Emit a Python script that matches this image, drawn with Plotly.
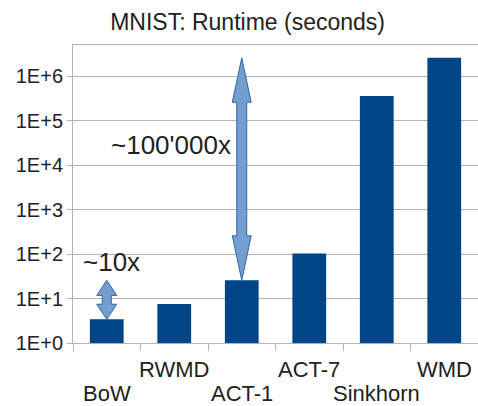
import numpy as np
import plotly.graph_objects as go

# Runtime per method on MNIST (seconds)
methods = ["BoW", "RWMD", "ACT-1", "ACT-7", "Sinkhorn", "WMD"]
runtime = [3.4, 7.5, 25.7, 103, 3.56e5, 2.57e6]

y_tickvals = [1, 10, 100, 1e3, 1e4, 1e5, 1e6]
y_ticktext = ["1E+0", "1E+1", "1E+2", "1E+3", "1E+4", "1E+5", "1E+6"]

BAR = "#004586"
ARROW_FILL = "#729fcf"
ARROW_LINE = "#3465a4"
GRID = "#b3b3b3"
FONT = "Liberation Sans, Arial, sans-serif"

x_pos = list(range(len(methods)))


def double_arrow(xc, lo, hi, head_len_dec, head_hw, shaft_hw):
    """Vertical two-headed block arrow between values lo and hi on a log axis."""
    a, b = np.log10(lo), np.log10(hi)
    pts = [
        (xc, a),
        (xc + head_hw, a + head_len_dec),
        (xc + shaft_hw, a + head_len_dec),
        (xc + shaft_hw, b - head_len_dec),
        (xc + head_hw, b - head_len_dec),
        (xc, b),
        (xc - head_hw, b - head_len_dec),
        (xc - shaft_hw, b - head_len_dec),
        (xc - shaft_hw, a + head_len_dec),
        (xc - head_hw, a + head_len_dec),
        (xc, a),
    ]
    xs = [p[0] for p in pts]
    ys = [10 ** p[1] for p in pts]
    return go.Scatter(
        x=xs, y=ys, mode="lines", fill="toself",
        fillcolor=ARROW_FILL, line=dict(color=ARROW_LINE, width=1),
        hoverinfo="skip", showlegend=False,
    )


fig = go.Figure()
fig.add_trace(go.Bar(
    x=x_pos, y=runtime, width=0.5,
    marker=dict(color=BAR, line=dict(width=0)),
    showlegend=False,
))

# BoW -> ACT-1 gap and ACT-1 -> WMD gap
fig.add_trace(double_arrow(0, runtime[0], runtime[2], 0.34, 0.148, 0.067))
fig.add_trace(double_arrow(2, runtime[2], runtime[5], 1.0, 0.14, 0.074))

annotations = []
for i, name in enumerate(methods):
    upper = i % 2 == 1
    annotations.append(dict(
        x=i, xref="x", y=-0.0906 if upper else -0.168, yref="paper",
        text=name, showarrow=False, xanchor="center", yanchor="middle",
        font=dict(size=22, color="#222222", family=FONT),
    ))

annotations.append(dict(
    x=0.094, y=0.272, xref="paper", yref="paper", text="~10x",
    showarrow=False, xanchor="center", yanchor="middle",
    font=dict(size=26, color="#222222", family=FONT),
))
annotations.append(dict(
    x=0.243, y=0.664, xref="paper", yref="paper", text="~100'000x",
    showarrow=False, xanchor="center", yanchor="middle",
    font=dict(size=26, color="#222222", family=FONT),
))

fig.update_layout(
    width=478, height=406,
    margin=dict(l=73, r=0, t=45, b=63),
    paper_bgcolor="white", plot_bgcolor="white",
    font=dict(family=FONT, color="#222222"),
    title=dict(
        text="MNIST: Runtime (seconds)", x=0.518, xanchor="center",
        y=1 - 22 / 406, yanchor="middle", xref="container", yref="container",
        font=dict(size=23, color="#222222", family=FONT),
    ),
    annotations=annotations,
    bargap=0.5,
)

fig.update_xaxes(
    range=[-0.5, len(methods) - 0.5],
    tickvals=[i - 0.5 for i in range(len(methods) + 1)],
    showticklabels=False, ticks="outside", ticklen=7, tickcolor=GRID,
    showgrid=False, zeroline=False,
    showline=True, linecolor=GRID, linewidth=1, mirror=True,
)
fig.update_yaxes(
    type="log", range=[0, np.log10(5e6)],
    tickvals=y_tickvals, ticktext=y_ticktext,
    tickfont=dict(size=20, color="#222222", family=FONT),
    ticks="outside", ticklen=5, tickcolor=GRID,
    showgrid=True, gridcolor=GRID, gridwidth=1,
    showline=True, linecolor=GRID, linewidth=1,
    zeroline=False,
)

fig.write_html("out.html")
